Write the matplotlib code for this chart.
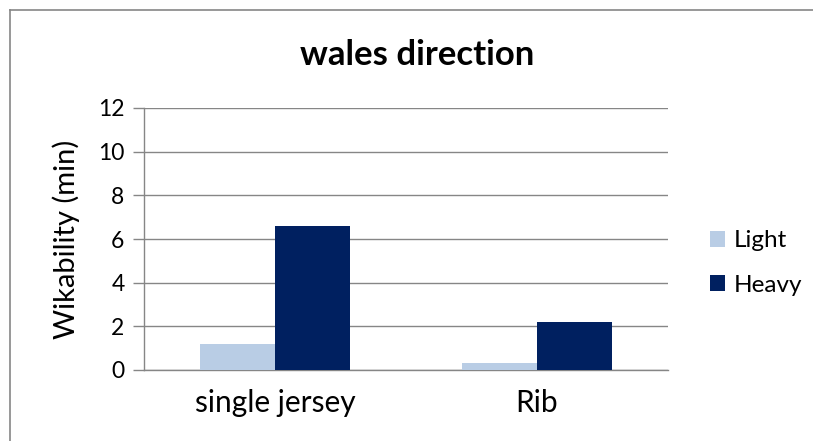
import matplotlib.pyplot as plt
import numpy as np
from matplotlib.lines import Line2D

categories = ["single jersey", "Rib"]
light = [1.2, 0.3]
heavy = [6.6, 2.2]
series_names = ["Light", "Heavy"]
yticks = [0, 2, 4, 6, 8, 10, 12]

plt.rcParams['font.family'] = ['Lato', 'DejaVu Sans']

fig = plt.figure(figsize=(8.13, 4.41), dpi=100)
ax = fig.add_axes([144 / 813, 71 / 441, 524 / 813, 262 / 441])

x = np.arange(len(categories))
w = 0.286
ax.bar(x - w / 2, light, w, color="#B9CDE5", label=series_names[0], zorder=3)
ax.bar(x + w / 2, heavy, w, color="#002060", label=series_names[1], zorder=3)

ax.set_xlim(-0.5, 1.5)
ax.set_ylim(0, 12)
ax.set_yticks(yticks)
ax.set_xticks(x)
ax.set_xticklabels(categories, fontsize=21.5)
ax.tick_params(axis='x', length=0, pad=14)
ax.tick_params(axis='y', length=8, width=1, color="#868686", labelsize=16.5, pad=6)
ax.yaxis.grid(True, color="#868686", linewidth=1, zorder=0)
for s in ["top", "right"]:
    ax.spines[s].set_visible(False)
for s in ["left", "bottom"]:
    ax.spines[s].set_color("#868686")
    ax.spines[s].set_linewidth(1)

ax.set_ylabel("Wikability (min)", fontsize=21, labelpad=13)
fig.text(417 / 813, 1 - 55 / 441, "wales direction", ha="center", va="center",
         fontsize=25, fontweight="bold")

ax.legend(loc="center left", bbox_to_anchor=(710 / 813, 1 - 263 / 441), bbox_transform=fig.transFigure,
          frameon=False, fontsize=17.5, handlelength=0.62, handleheight=0.62,
          labelspacing=0.95, handletextpad=0.35, borderpad=0, borderaxespad=0)

# outer chart frame (only left and top visible)
fig.add_artist(Line2D([10 / 813, 10 / 813], [0, 1 - 10 / 441], transform=fig.transFigure,
                      color="#868686", linewidth=1.2))
fig.add_artist(Line2D([10 / 813, 1.0], [1 - 10 / 441, 1 - 10 / 441], transform=fig.transFigure,
                      color="#868686", linewidth=1.2))

fig.savefig("out.png", dpi=100)
